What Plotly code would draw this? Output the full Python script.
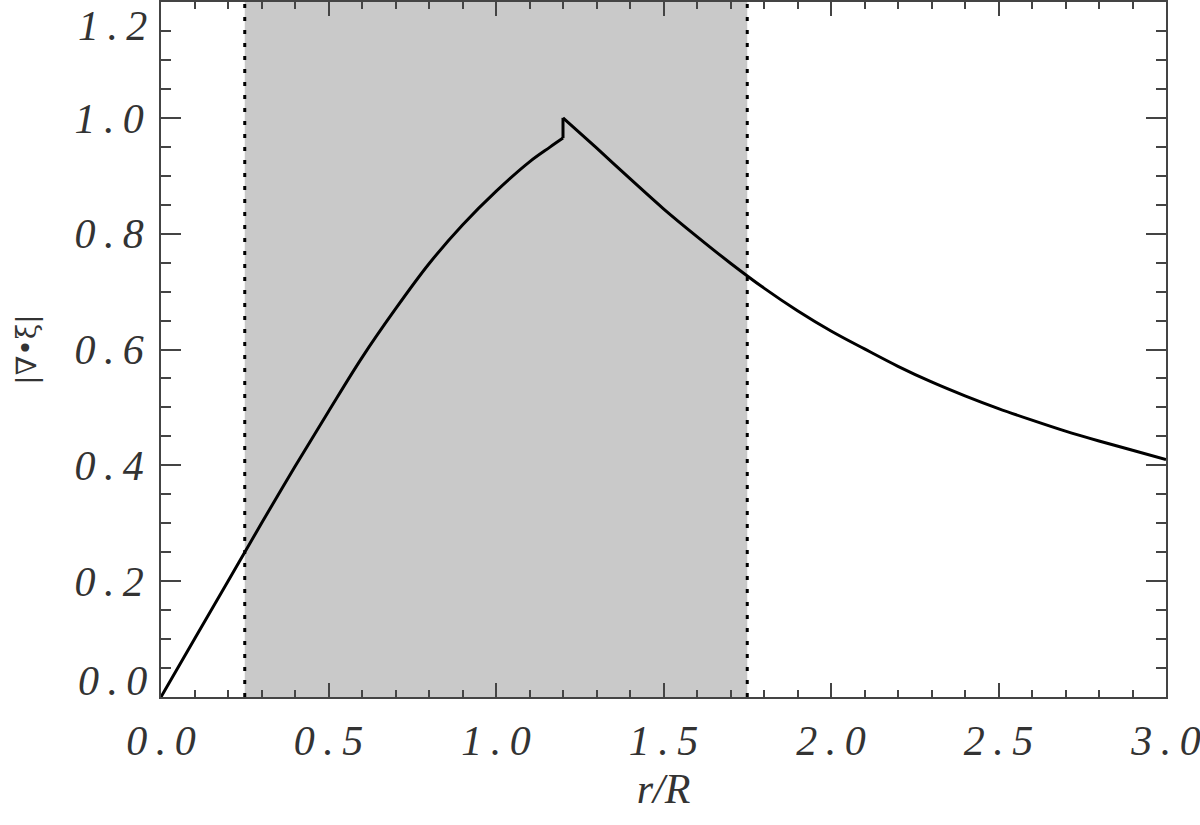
import plotly.graph_objects as go

# |div xi| against r/R
# inside the jump at r/R = 1.2
r_inner = [0.0, 0.1, 0.2, 0.25, 0.3, 0.4, 0.5, 0.6, 0.7, 0.8, 0.9, 1.0, 1.1, 1.16, 1.2]
div_inner = [0.0, 0.10, 0.20, 0.25, 0.30, 0.398, 0.493, 0.586, 0.670, 0.748, 0.815, 0.873,
             0.924, 0.949, 0.965]
# outside the jump
r_outer = [1.2, 1.3, 1.4, 1.5, 1.6, 1.7, 1.8, 1.9, 2.0, 2.1, 2.2, 2.3, 2.4, 2.5, 2.6,
           2.7, 2.8, 2.9, 3.0]
div_outer = [1.0, 0.948, 0.895, 0.843, 0.795, 0.749, 0.706, 0.667, 0.632, 0.601, 0.571,
             0.544, 0.520, 0.498, 0.478, 0.459, 0.442, 0.426, 0.410]

band_start = 0.25
band_end = 1.75

x_ticks = [0.0, 0.5, 1.0, 1.5, 2.0, 2.5, 3.0]
y_ticks = [0.0, 0.2, 0.4, 0.6, 0.8, 1.0, 1.2]


def spaced(v):
    return "\u2009.\u2009".join(f"{v:.1f}".split("."))


grey = "#333333"
tick_font = dict(family="Liberation Serif", size=42, color=grey, style="italic")
curve = dict(color="black", width=3)

fig = go.Figure()

fig.add_vrect(x0=band_start, x1=band_end, fillcolor="#c9c9c9", opacity=1,
              line_width=0, layer="below")
for xv in (band_start, band_end):
    fig.add_vline(x=xv, line=dict(color="black", width=3, dash="4px,9px"), layer="above")

fig.add_trace(go.Scatter(x=r_inner, y=div_inner, mode="lines", showlegend=False,
                         line=dict(curve, shape="spline", smoothing=1.0)))
fig.add_trace(go.Scatter(x=[r_inner[-1], r_outer[0]], y=[div_inner[-1], div_outer[0]],
                         mode="lines", showlegend=False, line=curve))
fig.add_trace(go.Scatter(x=r_outer, y=div_outer, mode="lines", showlegend=False,
                         line=dict(curve, shape="spline", smoothing=1.0)))

# end labels of the y axis sit inside the frame, like in the original
y_text = [spaced(v) for v in y_ticks]
fig.add_annotation(text=y_text[0], xref="paper", yref="y", x=0, y=y_ticks[0],
                   xanchor="right", yanchor="bottom", xshift=-12, yshift=-9,
                   showarrow=False, font=tick_font)
fig.add_annotation(text=y_text[-1], xref="paper", yref="y", x=0, y=y_ticks[-1],
                   xanchor="right", yanchor="top", xshift=-12, yshift=1,
                   showarrow=False, font=tick_font)
y_text[0] = ""
y_text[-1] = ""

fig.update_layout(
    width=1200, height=825,
    margin=dict(l=161, r=34, t=2, b=128),
    plot_bgcolor="white", paper_bgcolor="white",
)

fig.update_xaxes(
    range=[0, 3], showgrid=False, zeroline=False, automargin=False,
    showline=True, linecolor="#444444", linewidth=1.5, mirror="allticks",
    ticks="inside", ticklen=14, tickwidth=1.5, tickcolor="#444444",
    tickvals=x_ticks, ticktext=[spaced(v) for v in x_ticks],
    tickfont=tick_font, ticklabelstandoff=6, ticklabeloverflow="allow",
    minor=dict(dtick=0.1, ticks="inside", ticklen=7, tickwidth=1.5, tickcolor="#444444", showgrid=False),
    title=dict(text="r/R", font=dict(family="Liberation Serif", size=42, color=grey, style="italic"),
               standoff=10),
)

fig.update_yaxes(
    range=[0, 1.2], showgrid=False, zeroline=False, automargin=False,
    showline=True, linecolor="#444444", linewidth=1.5, mirror="allticks",
    ticks="inside", ticklen=20, tickwidth=1.5, tickcolor="#444444",
    tickvals=y_ticks, ticktext=y_text,
    tickfont=tick_font, ticklabelstandoff=7, ticklabeloverflow="allow",
    minor=dict(dtick=0.05, ticks="inside", ticklen=10, tickwidth=1.5, tickcolor="#444444", showgrid=False),
    title=dict(text="|∇•ξ|", font=dict(family="DejaVu Serif", size=28, color=grey),
               standoff=30),
)

fig.write_html("out.html", config={"displayModeBar": False},
               post_script="document.body.style.margin = '0';")
